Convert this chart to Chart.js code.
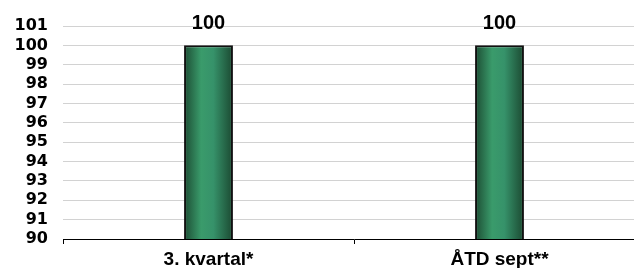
<!DOCTYPE html>
<html>
<head>
<meta charset="utf-8">
<script src="https://cdn.jsdelivr.net/npm/chart.js@4/dist/chart.umd.min.js"></script>
<style>
html,body{margin:0;padding:0;background:#fff;overflow:hidden;width:634px;height:268px;}
#wrap{width:660px;height:268px;position:relative;}
</style>
</head>
<body>
<div id="wrap"><canvas id="c"></canvas></div>
<script>
const categories = ['3. kvartal*', 'ÅTD sept**'];
const values = [100, 100];
const yMin = 90;
const yMax = 101;
const yStep = 1;

function barGradient(context) {
  const chart = context.chart;
  if (!chart.chartArea || !chart.scales.x) return '#2f8a5c';
  const xs = chart.scales.x;
  const cx = xs.getPixelForValue(context.dataIndex);
  const w = xs.width / categories.length * 0.168;
  const g = chart.ctx.createLinearGradient(cx - w / 2, 0, cx + w / 2, 0);
  g.addColorStop(0, '#1c4c33');
  g.addColorStop(0.35, '#3a9b6b');
  g.addColorStop(0.6, '#36926a');
  g.addColorStop(1, '#1b4931');
  return g;
}

const labelPlugin = {
  id: 'valueLabels',
  afterDatasetsDraw(chart) {
    const ctx = chart.ctx;
    const meta = chart.getDatasetMeta(0);
    ctx.save();
    ctx.font = 'bold 20px "Liberation Sans", Arial, sans-serif';
    ctx.fillStyle = '#000';
    ctx.textAlign = 'center';
    ctx.textBaseline = 'alphabetic';
    meta.data.forEach((el, i) => {
      ctx.fillText(String(values[i]), el.x, el.y - 16);
    });
    ctx.restore();
  }
};

new Chart(document.getElementById('c'), {
  type: 'bar',
  data: {
    labels: categories,
    datasets: [{
      data: values,
      backgroundColor: barGradient,
      borderColor: '#111',
      borderWidth: 2,
      borderSkipped: false,
      barPercentage: 0.168,
      categoryPercentage: 1
    }]
  },
  options: {
    responsive: true,
    maintainAspectRatio: false,
    animation: false,
    devicePixelRatio: 1,
    layout: { padding: { top: 26, right: 15, left: 0, bottom: 0 } },
    plugins: { legend: { display: false }, tooltip: { enabled: false } },
    scales: {
      x: {
        grid: { drawOnChartArea: false, drawTicks: true, tickLength: 5, offset: true, color: '#000', lineWidth: 1 },
        border: { display: true, color: '#000', width: 1 },
        ticks: { color: '#000', padding: 4, font: { family: '"Liberation Sans", Arial, sans-serif', size: 19, weight: 'bold' } },
        afterFit(s) { s.height = 29; }
      },
      y: {
        min: yMin,
        max: yMax,
        ticks: { stepSize: yStep, autoSkip: false, color: '#000', padding: 15, font: { family: '"DejaVu Sans", Verdana, sans-serif', size: 16, weight: 'bold' } },
        grid: { color: '#d2d2d2', lineWidth: 1, drawTicks: false },
        border: { display: false },
        afterFit(s) { s.width = 63; }
      }
    }
  },
  plugins: [labelPlugin]
});
</script>
</body>
</html>
